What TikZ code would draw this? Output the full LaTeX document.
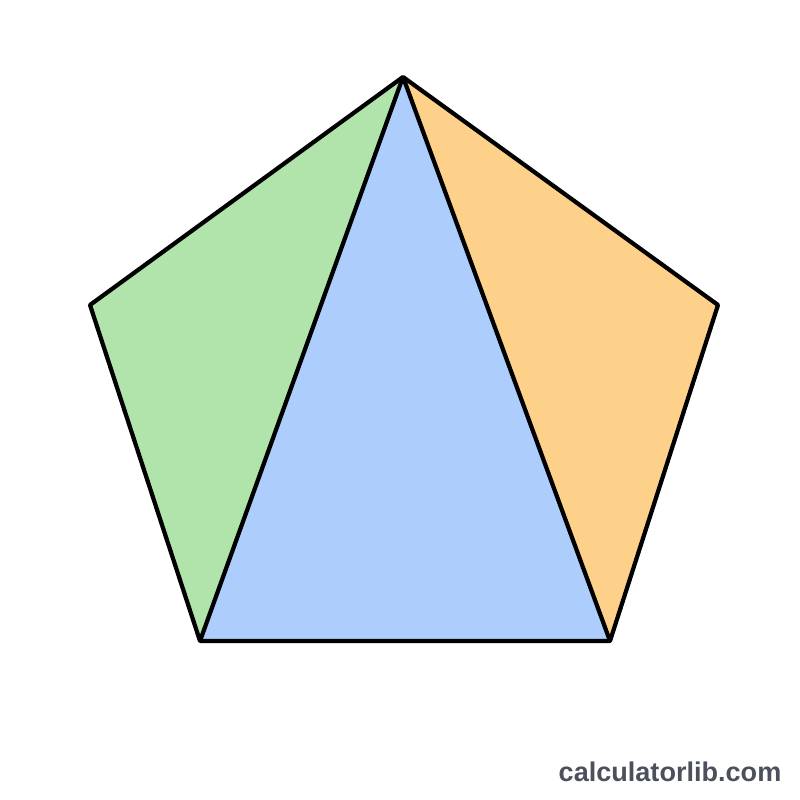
\documentclass[tikz,border=0pt]{standalone}
\usepackage{fontspec}
\setmainfont{Liberation Sans}
\usetikzlibrary{positioning,calc}
\definecolor{leftgreen}{RGB}{176,228,170}
\definecolor{midblue}{RGB}{173,205,252}
\definecolor{rightorange}{RGB}{253,209,138}
\definecolor{brandgray}{RGB}{74,80,92}
\tikzset{edge/.style={draw=black,line width=1.2pt,line join=round}}

\begin{document}
\begin{tikzpicture}
      \useasboundingbox (0,0) rectangle (8,8);
      % Pentagon corners
      \coordinate (top) at (4.03,7.23);
      \coordinate (right) at (7.18,4.95);
      \coordinate (botright) at (6.10,1.59);
      \coordinate (botleft) at (2.00,1.59);
      \coordinate (left) at (0.90,4.95);
      % Triangles from the top corner
      \fill[leftgreen] (top) -- (left) -- (botleft) -- cycle;
      \fill[midblue] (top) -- (botleft) -- (botright) -- cycle;
      \fill[rightorange] (top) -- (botright) -- (right) -- cycle;
      \draw[edge] (top) -- (botleft);
      \draw[edge] (top) -- (botright);
      \draw[edge] (top) -- (right) -- (botright) -- (botleft) -- (left) -- cycle;
      % Watermark
      \node[font=\fontsize{7.7pt}{9pt}\selectfont\bfseries,text=brandgray,anchor=east,inner sep=0pt] (brand) at (7.82,0.28) {calculatorlib.com};
    \end{tikzpicture}
\end{document}
